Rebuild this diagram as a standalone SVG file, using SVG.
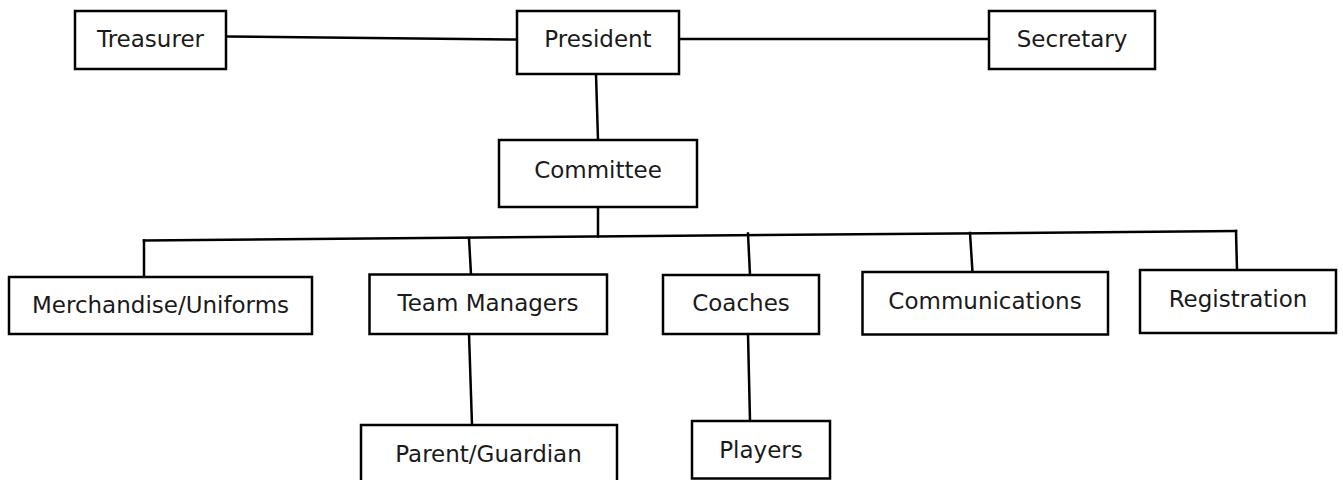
<svg xmlns="http://www.w3.org/2000/svg" width="1343" height="480" viewBox="0 0 1343 480">
<style>
.box{fill:#fff;stroke:#000;stroke-width:2.5}
.lbl{font-family:"DejaVu Sans","Liberation Sans",sans-serif;font-size:23px;fill:#1a1a1a;text-anchor:middle}
.con line{stroke:#000;stroke-width:2.5;stroke-linecap:square}
</style>
<rect width="1343" height="480" fill="#fff"/>
<g class="con" id="connectors">
<line x1="226" y1="36.5" x2="517" y2="39.5"/>
<line x1="679" y1="39" x2="989" y2="39"/>
<line x1="596" y1="74" x2="598" y2="140"/>
<line x1="598" y1="207" x2="598" y2="236.5"/>
<line x1="144" y1="240.5" x2="1236" y2="231"/>
<line x1="144" y1="240.5" x2="144" y2="277"/>
<line x1="469" y1="238" x2="471" y2="274.5"/>
<line x1="469" y1="334" x2="472" y2="425"/>
<line x1="748" y1="233.5" x2="750" y2="275"/>
<line x1="748" y1="334" x2="750" y2="421"/>
<line x1="970" y1="233" x2="972.5" y2="272"/>
<line x1="1236" y1="231" x2="1237" y2="270"/>
</g>
<g id="treasurer"><rect class="box" x="75" y="11" width="151" height="58"/><text class="lbl" x="150.5" y="47">Treasurer</text></g>
<g id="president"><rect class="box" x="517" y="11" width="162" height="63"/><text class="lbl" x="598" y="47">President</text></g>
<g id="secretary"><rect class="box" x="989" y="11" width="166" height="58"/><text class="lbl" x="1072" y="47">Secretary</text></g>
<g id="committee"><rect class="box" x="499" y="140" width="198" height="67"/><text class="lbl" x="598" y="177.5">Committee</text></g>
<g id="merchandise"><rect class="box" x="9" y="277" width="303" height="57"/><text class="lbl" x="160.5" y="313">Merchandise/Uniforms</text></g>
<g id="team-managers"><rect class="box" x="369.5" y="274.5" width="237.5" height="59.5"/><text class="lbl" x="488" y="311">Team Managers</text></g>
<g id="coaches"><rect class="box" x="663" y="275" width="156" height="59"/><text class="lbl" x="741" y="310.5">Coaches</text></g>
<g id="communications"><rect class="box" x="862.5" y="272" width="245.5" height="62.5"/><text class="lbl" x="985" y="309">Communications</text></g>
<g id="registration"><rect class="box" x="1140" y="270" width="196" height="63"/><text class="lbl" x="1238" y="306.5">Registration</text></g>
<g id="parent-guardian"><rect class="box" x="361" y="425" width="256" height="70"/><text class="lbl" x="488.5" y="461.5">Parent/Guardian</text></g>
<g id="players"><rect class="box" x="692" y="421" width="138" height="57.5"/><text class="lbl" x="761" y="458">Players</text></g>
</svg>
